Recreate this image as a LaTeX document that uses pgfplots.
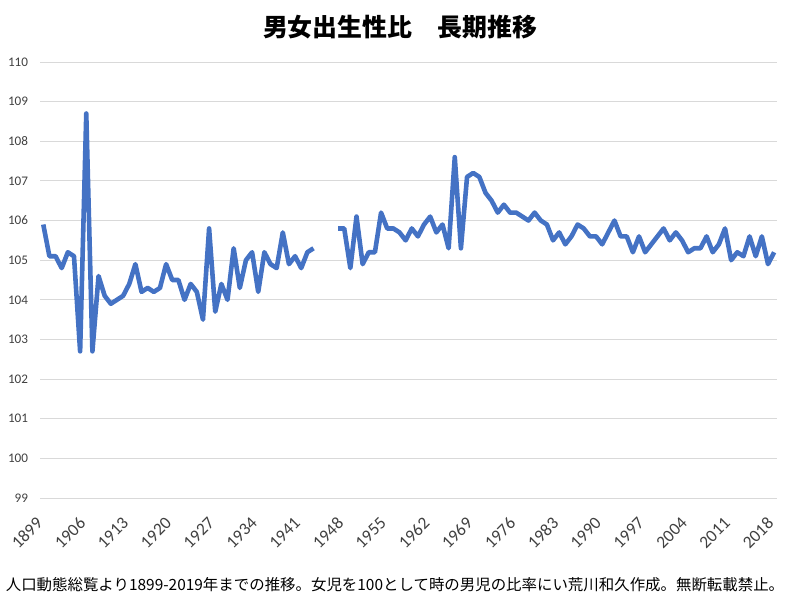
\documentclass[border=0pt]{standalone}
\usepackage{fontspec}
\setmainfont{Carlito}
\newfontfamily\jp{Noto Sans CJK JP}
\usepackage{pgfplots}
\pgfplotsset{compat=1.18}
\usepackage{pgfplotstable}
\definecolor{lineblue}{HTML}{4472C4}
\definecolor{gridgray}{HTML}{D9D9D9}
\definecolor{labgray}{HTML}{404040}
\pgfplotstableread{
year val
1899 105.9
1900 105.1
1901 105.1
1902 104.8
1903 105.2
1904 105.1
1905 102.7
1906 108.7
1907 102.7
1908 104.6
1909 104.1
1910 103.9
1911 104.0
1912 104.1
1913 104.4
1914 104.9
1915 104.2
1916 104.3
1917 104.2
1918 104.3
1919 104.9
1920 104.5
1921 104.5
1922 104.0
1923 104.4
1924 104.2
1925 103.5
1926 105.8
1927 103.7
1928 104.4
1929 104.0
1930 105.3
1931 104.3
1932 105.0
1933 105.2
1934 104.2
1935 105.2
1936 104.9
1937 104.8
1938 105.7
1939 104.9
1940 105.1
1941 104.8
1942 105.2
1943 105.3
1944 nan
1945 nan
1946 nan
1947 105.8
1948 105.8
1949 104.8
1950 106.1
1951 104.9
1952 105.2
1953 105.2
1954 106.2
1955 105.8
1956 105.8
1957 105.7
1958 105.5
1959 105.8
1960 105.6
1961 105.9
1962 106.1
1963 105.7
1964 105.9
1965 105.3
1966 107.6
1967 105.3
1968 107.1
1969 107.2
1970 107.1
1971 106.7
1972 106.5
1973 106.2
1974 106.4
1975 106.2
1976 106.2
1977 106.1
1978 106.0
1979 106.2
1980 106.0
1981 105.9
1982 105.5
1983 105.7
1984 105.4
1985 105.6
1986 105.9
1987 105.8
1988 105.6
1989 105.6
1990 105.4
1991 105.7
1992 106.0
1993 105.6
1994 105.6
1995 105.2
1996 105.6
1997 105.2
1998 105.4
1999 105.6
2000 105.8
2001 105.5
2002 105.7
2003 105.5
2004 105.2
2005 105.3
2006 105.3
2007 105.6
2008 105.2
2009 105.4
2010 105.8
2011 105.0
2012 105.2
2013 105.1
2014 105.6
2015 105.1
2016 105.6
2017 104.9
2018 105.2
}\datatable
\begin{document}
\begin{tikzpicture}[x=1bp,y=1bp]
\useasboundingbox (0,0) rectangle (800,600);
\begin{axis}[
  at={(40.2bp,102bp)}, anchor=south west,
  scale only axis, width=737bp, height=436bp,
  xmin=1898.5, xmax=2018.5, ymin=99, ymax=110,
  xtick={1899,1906,...,2018},
  ytick={99,100,...,110},
  ymajorgrids, grid style={gridgray, line width=0.8bp},
  axis line style={draw=none},
  major tick length=0pt,
  /pgf/number format/assume math mode=true,
  /pgf/number format/1000 sep={},
  x tick label style={font=\fontsize{17.5}{17.5}\selectfont, text=labgray, inner sep=0pt, xshift=-8bp, yshift=-18bp, rotate=45, anchor=north east},
  y tick label style={font=\fontsize{13.2}{13.2}\selectfont, text=labgray, inner sep=2bp, xshift=-10bp},
  unbounded coords=jump,
  clip=false,
]
\addplot[lineblue, line width=4.6bp, line join=round, mark=none] table[x=year, y=val] {\datatable};
\end{axis}
\node[font=\jp\bfseries\fontsize{25}{25}\selectfont] at (400,573) {男女出生性比　長期推移};
\node[font=\jp\fontsize{15.5}{15.5}\selectfont, inner sep=0] at (395,15) {人口動態総覧より1899-2019年までの推移。女児を100として時の男児の比率にい荒川和久作成。無断転載禁止。};
\end{tikzpicture}
\end{document}
